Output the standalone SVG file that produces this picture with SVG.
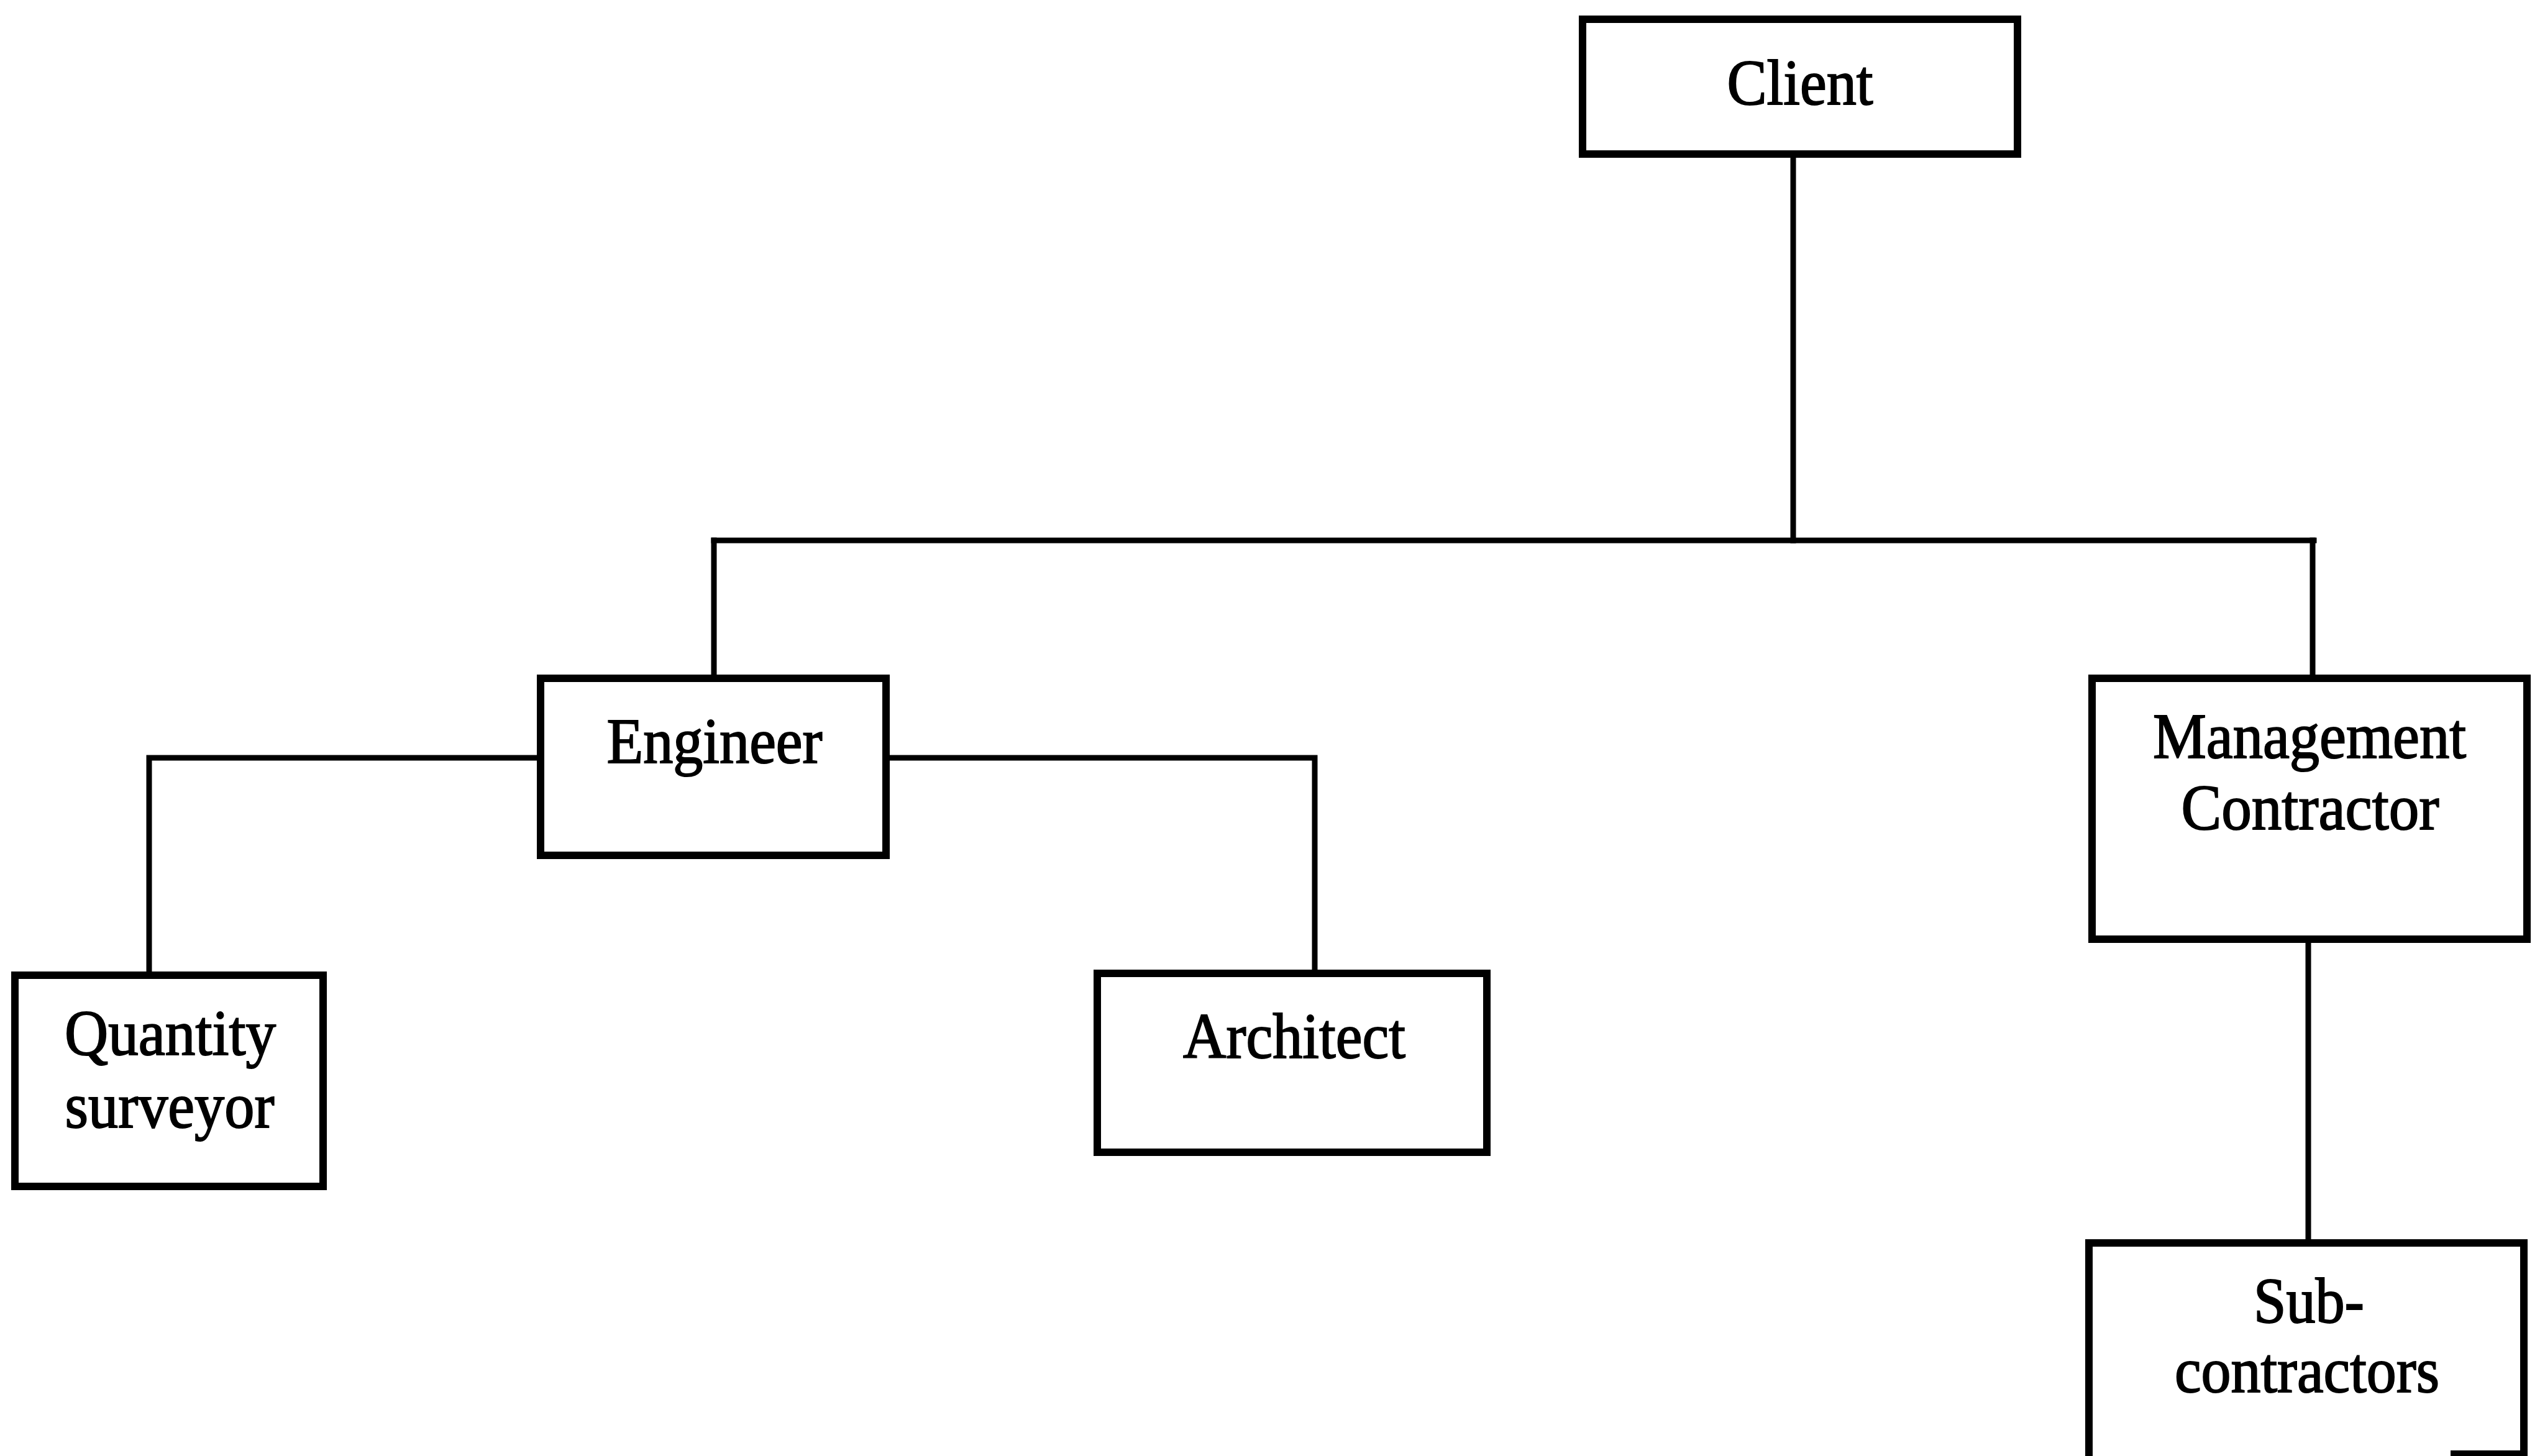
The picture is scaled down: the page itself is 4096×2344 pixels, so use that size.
<svg xmlns="http://www.w3.org/2000/svg" width="4096" height="2344" viewBox="0 0 4096 2344">
  <style>
    .box { fill: #ffffff; stroke: #000000; stroke-width: 12; }
    .edge { fill: none; stroke: #000000; stroke-width: 12; }
    .link { fill: none; stroke: #000000; stroke-width: 9; stroke-linecap: square; stroke-linejoin: miter; }
    .label { font-family: "Liberation Serif", "Times New Roman", serif; font-size: 104px; fill: #000000; stroke: #000000; stroke-width: 2; text-anchor: middle; }
  </style>
  <rect width="4096" height="2344" fill="#ffffff"/>

  <!-- connectors -->
  <g id="connectors">
    <line class="link" x1="2886" y1="248" x2="2886" y2="870"/>
    <line class="link" x1="1149" y1="870" x2="3724" y2="870"/>
    <line class="link" x1="1149" y1="870" x2="1149" y2="1092"/>
    <line class="link" x1="3722" y1="870" x2="3722" y2="1092"/>
    <polyline class="link" points="870,1220 240,1220 240,1570"/>
    <polyline class="link" points="1426,1220 2116,1220 2116,1567"/>
    <line class="link" x1="3715" y1="1512" x2="3715" y2="2001"/>
  </g>

  <!-- organisation nodes -->
  <g id="client">
    <rect class="box" x="2547" y="31" width="700" height="217"/>
    <text class="label" x="2897" y="168" textLength="235" lengthAdjust="spacingAndGlyphs">Client</text>
  </g>

  <g id="engineer">
    <rect class="box" x="870" y="1092" width="556" height="285"/>
    <text class="label" x="1150" y="1228" textLength="347" lengthAdjust="spacingAndGlyphs">Engineer</text>
  </g>

  <g id="quantity-surveyor">
    <rect class="box" x="24" y="1570" width="496" height="340"/>
    <text class="label" x="274" y="1698" textLength="340" lengthAdjust="spacingAndGlyphs">Quantity</text>
    <text class="label" x="273" y="1815" textLength="337" lengthAdjust="spacingAndGlyphs">surveyor</text>
  </g>

  <g id="architect">
    <rect class="box" x="1766" y="1567" width="627" height="288"/>
    <text class="label" x="2083" y="1703" textLength="358" lengthAdjust="spacingAndGlyphs">Architect</text>
  </g>

  <g id="management-contractor">
    <rect class="box" x="3367" y="1092" width="700" height="420"/>
    <text class="label" x="3717" y="1220" textLength="504" lengthAdjust="spacingAndGlyphs">Management</text>
    <text class="label" x="3718" y="1335" textLength="415" lengthAdjust="spacingAndGlyphs">Contractor</text>
  </g>

  <!-- bottom box runs off the page; only the right end of its lower edge shows -->
  <g id="sub-contractors">
    <path class="edge" d="M3362,2360 L3362,2001 L4062,2001 L4062,2360"/>
    <line class="edge" x1="3944" y1="2341" x2="4062" y2="2341"/>
    <text class="label" x="3716" y="2129" textLength="178" lengthAdjust="spacingAndGlyphs">Sub-</text>
    <text class="label" x="3713" y="2241" textLength="426" lengthAdjust="spacingAndGlyphs">contractors</text>
  </g>
</svg>
